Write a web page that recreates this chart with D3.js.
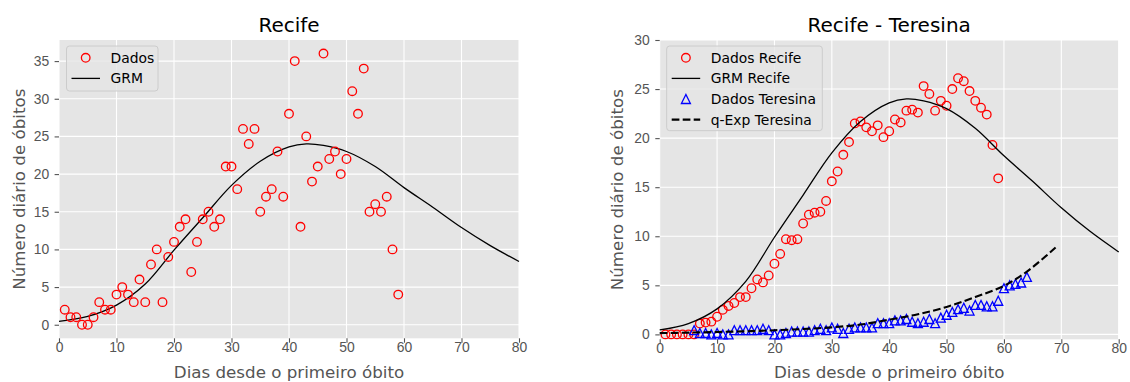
<!DOCTYPE html>
<html><head><meta charset="utf-8">
<script src="https://cdn.jsdelivr.net/npm/d3@7"></script>
<style>body{margin:0;background:#fff}svg{display:block;font-family:"DejaVu Sans",sans-serif}</style>
</head><body><svg id="c" width="1130" height="382"></svg>
<script>
// ---------------- data ----------------
const recifeDays = [1,2,3,4,5,6,7,8,9,10,11,12,13,14,15,16,17,18,19,20,21,22,23,24,25,26,27,28,29,30,31,32,33,34,35,36,37,38,39,40,41,42,43,44,45,46,47,48,49,50,51,52,53,54,55,56,57,58,59];
const recifeDaily = [2,1,1,0,0,1,3,2,2,4,5,4,3,6,3,8,10,3,9,11,13,14,7,11,14,15,13,14,21,21,18,26,24,26,15,17,18,23,17,28,35,13,25,19,21,36,22,23,20,22,31,28,34,15,16,15,17,10,4];
const recifeSmooth = [0,0,0,0,0,0,1.1,1.2,1.3,1.8,2.5,2.9,3.2,3.8,3.8,4.7,5.6,5.3,6.0,7.2,8.2,9.7,9.6,9.7,11.3,12.2,12.4,12.5,13.6,15.6,16.6,18.3,19.6,21.5,21.7,21.1,20.7,21.3,20.1,20.7,21.9,21.6,22.8,22.9,22.6,25.3,24.5,22.8,23.8,23.3,25.0,26.1,25.8,24.8,23.8,23.1,22.4,19.3,15.9];
const teresinaDays = [6,7,8,9,10,11,12,13,14,15,16,17,18,19,20,21,22,23,24,25,26,27,28,29,30,31,32,33,34,35,36,37,38,39,40,41,42,43,44,45,46,47,48,49,50,51,52,53,54,55,56,57,58,59,60,61,62,63,64];
const teresina = [0.43,0.14,0.14,0,0.14,0,0,0.43,0.43,0.43,0.43,0.43,0.57,0.43,0,0,0.14,0.29,0.29,0.29,0.29,0.43,0.57,0.43,0.71,0.57,0.14,0.57,0.71,0.71,0.71,0.71,1.14,1.14,1.14,1.43,1.43,1.57,1.29,1.14,1.29,1.57,1.14,1.71,2.0,2.29,2.57,2.71,2.43,3.0,3.0,2.86,2.86,3.43,4.71,5.0,5.14,5.29,5.86];
const grmDays   = [0,5,10,15,20,25,30,35,40,43,46,50,55,60,65,70,75,80];
const grmValues = [0.45,1.1,2.6,5.4,9.9,14.2,18.5,21.7,23.6,24.0,23.8,23.0,21.0,18.2,15.6,12.9,10.5,8.4];
const qexpDays   = [0,5,10,15,20,25,30,35,40,45,50,55,60,64,69];
const qexpValues = [0.13,0.18,0.24,0.32,0.42,0.55,0.72,1.0,1.5,2.05,2.8,3.8,4.95,6.4,8.85];
const xTicks = [0,10,20,30,40,50,60,70,80];
const yTicksLeft = [0,5,10,15,20,25,30,35];
const yTicksRight = [0,5,10,15,20,25,30];
const titles = ["Recife", "Recife - Teresina"];
const xLabel = "Dias desde o primeiro óbito";
const yLabel = "Número diário de óbitos";
const legendLeft = ["Dados", "GRM"];
const legendRight = ["Dados Recife", "GRM Recife", "Dados Teresina", "q-Exp Teresina"];

// ---------------- drawing ----------------
const svg = d3.select("#c");
const TICK = "#555555", BG = "#E5E5E5";

function panel(cfg) {
  const g = svg.append("g");
  const x = d3.scaleLinear().domain([0, 80]).range([cfg.x0, cfg.x1]);
  const y = d3.scaleLinear().domain(cfg.ydom).range([cfg.y1, cfg.y0]);
  g.append("rect").attr("x", cfg.x0).attr("y", cfg.y0)
    .attr("width", cfg.x1 - cfg.x0).attr("height", cfg.y1 - cfg.y0).attr("fill", BG);
  g.selectAll(".gx").data(xTicks).enter().append("line")
    .attr("x1", d => x(d)).attr("x2", d => x(d)).attr("y1", cfg.y0).attr("y2", cfg.y1)
    .attr("stroke", "#fff").attr("stroke-width", 1.1);
  g.selectAll(".gy").data(cfg.yticks).enter().append("line")
    .attr("y1", d => y(d)).attr("y2", d => y(d)).attr("x1", cfg.x0).attr("x2", cfg.x1)
    .attr("stroke", "#fff").attr("stroke-width", 1.1);
  const ax = g.append("g").attr("transform", `translate(0,${cfg.y1})`)
    .call(d3.axisBottom(x).tickValues(xTicks).tickSize(4.4).tickPadding(0).tickSizeOuter(0).tickFormat(d3.format("d")));
  ax.select(".domain").remove();
  ax.selectAll("line").attr("stroke", TICK).attr("stroke-width", 1.1);
  ax.selectAll("text").attr("fill", TICK).style("font-size", "13.9px")
    .attr("dy", null).attr("y", 14.2);
  const ay = g.append("g").attr("transform", `translate(${cfg.x0},0)`)
    .call(d3.axisLeft(y).tickValues(cfg.yticks).tickSize(4.4).tickPadding(5.5).tickSizeOuter(0).tickFormat(d3.format("d")));
  ay.select(".domain").remove();
  ay.selectAll("line").attr("stroke", TICK).attr("stroke-width", 1.1);
  ay.selectAll("text").attr("fill", TICK).style("font-size", "13.9px");
  const cx = (cfg.x0 + cfg.x1) / 2, cy = (cfg.y0 + cfg.y1) / 2;
  g.append("text").attr("x", cx).attr("y", 31.5).attr("text-anchor", "middle")
    .style("font-size", "20px").attr("fill", "#000").text(cfg.title);
  g.append("text").attr("x", cx).attr("y", 377.8).attr("text-anchor", "middle")
    .style("font-size", "16.7px").attr("fill", TICK).text(xLabel);
  g.append("text").attr("transform", `translate(${cfg.ylabX},${cy}) rotate(-90)`)
    .attr("text-anchor", "middle").style("font-size", "16.7px").attr("fill", TICK).text(yLabel);
  return {g, x, y};
}

function circles(p, days, vals) {
  p.g.append("g").selectAll("circle").data(vals).enter().append("circle")
    .attr("cx", (d, i) => p.x(days[i])).attr("cy", d => p.y(d)).attr("r", 4.3)
    .attr("fill", "none").attr("stroke", "red").attr("stroke-width", 1.3);
}
function triPath(cx, cy, s) {
  return `M${cx},${cy - s}L${cx - s},${cy + s}L${cx + s},${cy + s}Z`;
}
function triangles(p, days, vals) {
  p.g.append("g").selectAll("path").data(vals).enter().append("path")
    .attr("d", (d, i) => triPath(p.x(days[i]), p.y(d), 4.5))
    .attr("fill", "none").attr("stroke", "blue").attr("stroke-width", 1.3);
}
function curve(p, days, vals, dashed) {
  const line = d3.line().x((d, i) => p.x(days[i])).y(d => p.y(d)).curve(d3.curveCatmullRom.alpha(0.5));
  p.g.append("path").attr("d", line(vals)).attr("fill", "none").attr("stroke", "#000")
    .attr("stroke-width", dashed ? 2.1 : 1.3).attr("stroke-dasharray", dashed ? "7.7,3.3" : null);
}
function legend(p, x0, y0, w, h, items) {
  p.g.append("rect").attr("x", x0).attr("y", y0).attr("width", w).attr("height", h).attr("rx", 3)
    .attr("fill", BG).attr("fill-opacity", 0.8).attr("stroke", "#CCCCCC").attr("stroke-width", 1);
  items.forEach((it, i) => {
    const yy = y0 + 11.8 + i * 20.6;
    const mx = x0 + 19.2;
    if (it.type === "circle") {
      p.g.append("circle").attr("cx", mx).attr("cy", yy).attr("r", 4.3).attr("fill", "none")
        .attr("stroke", "red").attr("stroke-width", 1.3);
    } else if (it.type === "tri") {
      p.g.append("path").attr("d", triPath(mx, yy, 4.5))
        .attr("fill", "none").attr("stroke", "blue").attr("stroke-width", 1.3);
    } else {
      p.g.append("line").attr("x1", x0 + 5).attr("x2", x0 + 33.5).attr("y1", yy).attr("y2", yy)
        .attr("stroke", "#000").attr("stroke-width", it.type === "dash" ? 2.1 : 1.3)
        .attr("stroke-dasharray", it.type === "dash" ? "7.7,3.3" : null);
    }
    p.g.append("text").attr("x", x0 + 44).attr("y", yy + 5).style("font-size", "13.9px")
      .attr("fill", "#000").text(it.label);
  });
}

const L = panel({x0: 59, x1: 519, y0: 40, y1: 338.3, ydom: [-1.8, 37.8], yticks: yTicksLeft, title: titles[0], ylabX: 25});
curve(L, grmDays, grmValues, false);
circles(L, recifeDays, recifeDaily);
legend(L, 66.5, 46, 91.5, 45, [{type: "circle", label: legendLeft[0]}, {type: "line", label: legendLeft[1]}]);

const R = panel({x0: 659.7, x1: 1118.7, y0: 40, y1: 339.3, ydom: [-0.5, 30], yticks: yTicksRight, title: titles[1], ylabX: 623});
circles(R, recifeDays, recifeSmooth);
curve(R, grmDays, grmValues, false);
triangles(R, teresinaDays, teresina);
curve(R, qexpDays, qexpValues, true);
legend(R, 666.7, 46, 155.6, 84.7, [
  {type: "circle", label: legendRight[0]}, {type: "line", label: legendRight[1]},
  {type: "tri", label: legendRight[2]}, {type: "dash", label: legendRight[3]}]);
</script></body></html>
